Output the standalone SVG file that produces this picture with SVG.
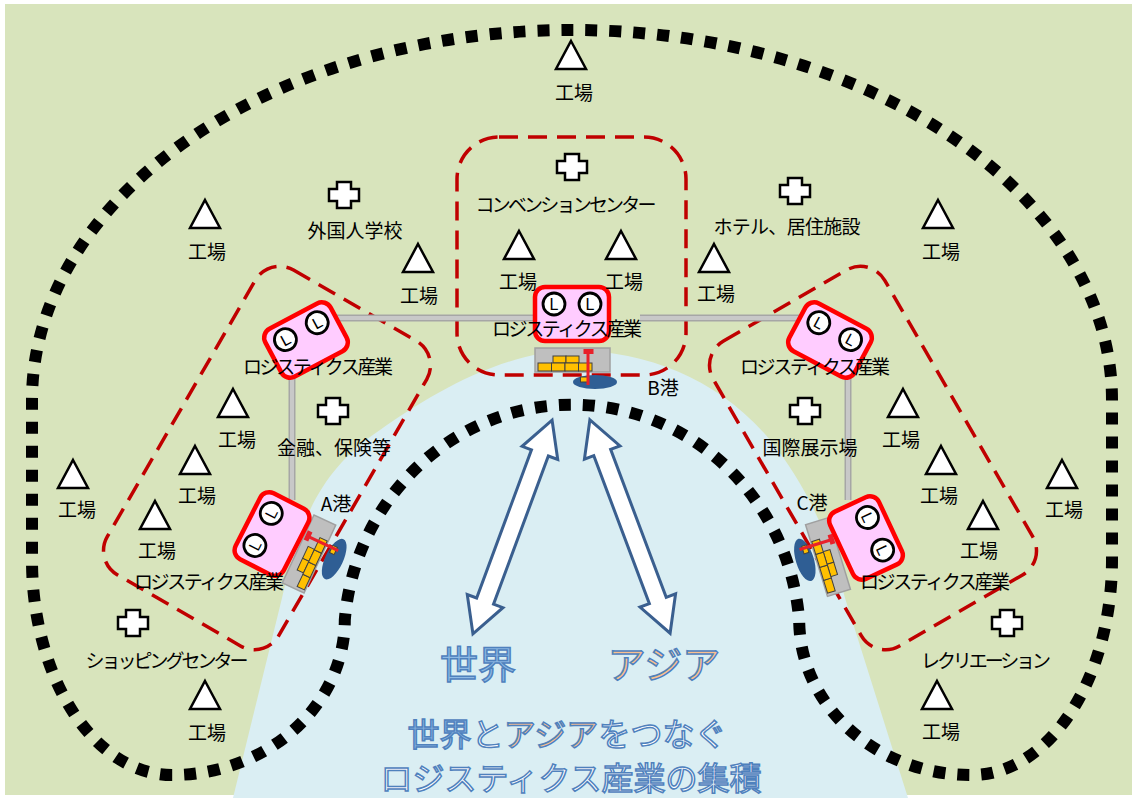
<svg xmlns="http://www.w3.org/2000/svg" width="1132" height="798" viewBox="0 0 1132 798">
  <defs>
    <style>
      .lbl{font-family:"Noto Sans CJK JP","Noto Sans",sans-serif;font-size:19px;fill:#000;text-anchor:middle}
      .tri{fill:#fff;stroke:#000;stroke-width:2.5;stroke-linejoin:miter}
      .plus{fill:#fff;stroke:#000;stroke-width:2.5;stroke-linejoin:miter}
      .zone{fill:none;stroke:#C00000;stroke-width:3.5;stroke-dasharray:19 10}
      .box{fill:#FFCCFF;stroke:#FF0000;stroke-width:4.5}
      .lc{fill:#fff;stroke:#000;stroke-width:2.8}
      .lt{font-family:"Liberation Sans",sans-serif;font-size:16px;text-anchor:middle;fill:#000}
      .link{fill:none;stroke:#A6A6A6;stroke-width:7}
      .link-in{fill:none;stroke:#C8C8C8;stroke-width:4}
      .cont{fill:#FFC000;stroke:#404040;stroke-width:1}
      .ship{fill:#2F5E94}
      .quay{fill:#BFBFBF;stroke:#A0A0A0;stroke-width:1.5}
      .crane{stroke:#E8202A;stroke-width:3}
      .arrow{fill:#fff;stroke:#3A5F8F;stroke-width:3;stroke-linejoin:miter}
      .big{font-family:"Noto Sans CJK JP","Noto Sans",sans-serif;stroke:#4F81BD;stroke-width:1.5;text-anchor:middle}
    </style>
    <polygon id="tri" class="tri" points="0,-14 15,14 -15,14"/>
    <path id="plus" class="plus" d="M-7,-13 H7 V-6 H15 V6 H7 V13 H-7 V6 H-15 V-6 H-7 Z"/>
    <!-- logistics facility box with two "L" badges -->
    <g id="lbox">
      <rect class="box" x="-37" y="-27" width="74" height="54" rx="10"/>
      <circle class="lc" cx="-18" cy="-10" r="11"/>
      <circle class="lc" cx="18" cy="-10" r="11"/>
      <text class="lt" x="-18" y="-4.3">L</text>
      <text class="lt" x="18" y="-4.3">L</text>
    </g>
    <!-- quay with containers, origin at quay centre -->
    <g id="quay">
      <rect class="quay" x="-37.5" y="-12" width="75" height="24"/>
      <rect class="cont" x="-19.5" y="-4" width="13" height="7"/>
      <rect class="cont" x="-6.5" y="-4" width="13" height="7"/>
      <rect class="cont" x="-34.5" y="3" width="13.5" height="8"/>
      <rect class="cont" x="-21" y="3" width="13.5" height="8"/>
      <rect class="cont" x="-7.5" y="3" width="13.5" height="8"/>
      <rect class="cont" x="6" y="3" width="13.5" height="8"/>
    </g>
    <g id="crane">
      <line class="crane" x1="15.5" y1="-9" x2="15.5" y2="25"/>
      <rect x="11" y="-11" width="10" height="5" fill="#E8202A"/>
    </g>
  </defs>

  <!-- land -->
  <rect x="5" y="4" width="1127" height="791" fill="#D8E4BC"/>
  <!-- sea -->
  <path d="M233,798 L282,598 C300,520 320,470 380,430 C430,395 500,352 575,350 C650,352 720,380 770,440 C810,490 830,540 845,598 L908,798 Z" fill="#DAEEF3"/>

  <!-- outer cluster boundary (block arc) -->
  <path d="M172,775 A140,215 0 0 1 32,560 L32,400 A540,370 0 0 1 572,30 A540,370 0 0 1 1112,400 L1112,560 A140,215 0 0 1 972,775 A172,155 0 0 1 799.2,620 A228,235 0 0 0 344.8,620 A172.8,155 0 0 1 172,775 Z" fill="none" stroke="#000" stroke-width="12" stroke-dasharray="12 12"/>

  <!-- industry zones -->
  <g id="zones">
    <rect class="zone" x="457" y="137" width="229" height="238" rx="42"/>
    <rect class="zone" x="-99" y="-176" width="198" height="352" rx="28" transform="translate(267,458) rotate(30)"/>
    <rect class="zone" x="-99" y="-176" width="198" height="352" rx="28" transform="translate(873,458) rotate(-30)"/>
  </g>

  <!-- connectors between logistics bases -->
  <g id="connectors">
    <path class="link" d="M330,318 H545 M640,318 H810 M292,360 V500 M848,360 V500"/>
    <path class="link-in" d="M330,318 H545 M640,318 H810 M292,360 V500 M848,360 V500"/>
  </g>

  <!-- ports -->
  <g id="port-b" transform="translate(572.5,360)">
    <ellipse class="ship" cx="22.5" cy="22" rx="22" ry="7"/>
    <use href="#quay"/>
    <rect class="cont" x="8" y="17" width="8" height="5"/>
    <use href="#crane"/>
  </g>
  <g id="port-a" transform="translate(309,554) rotate(-65)">
    <ellipse class="ship" cx="6" cy="25" rx="22" ry="9"/>
    <use href="#quay"/>
    <rect class="cont" x="10" y="18" width="8" height="5"/>
    <use href="#crane"/>
  </g>
  <g id="port-c" transform="translate(828,557) scale(-1,1) rotate(-73)">
    <ellipse class="ship" cx="4" cy="23" rx="22" ry="9"/>
    <use href="#quay"/>
    <rect class="cont" x="10" y="17" width="8" height="5"/>
    <use href="#crane"/>
  </g>

  <!-- logistics bases -->
  <g id="lb-center"><use href="#lbox" transform="translate(572,314)"/></g>
  <g id="lb-upper-left"><use href="#lbox" transform="translate(306,340) rotate(-28)"/></g>
  <g id="lb-upper-right"><use href="#lbox" transform="translate(830,340) rotate(28)"/></g>
  <g id="lb-port-a"><use href="#lbox" transform="translate(272,534) rotate(-63)"/></g>
  <g id="lb-port-c"><use href="#lbox" transform="translate(866,538) rotate(65)"/></g>

  <!-- trade arrows -->
  <g id="arrows">
    <polygon class="arrow" points="-114,0 -79,-19 -79,-9 79,-9 79,-19 114,0 79,19 79,9 -79,9 -79,19" transform="translate(512.5,527) rotate(110.3)"/>
    <polygon class="arrow" points="-114,0 -79,-19 -79,-9 79,-9 79,-19 114,0 79,19 79,9 -79,9 -79,19" transform="translate(630,526.5) rotate(69.4)"/>
  </g>

  <!-- factories -->
  <g id="factories">
    <use href="#tri" x="571" y="55"/>
    <use href="#tri" x="205" y="214"/>
    <use href="#tri" x="418" y="258"/>
    <use href="#tri" x="519" y="245"/>
    <use href="#tri" x="621" y="245"/>
    <use href="#tri" x="714" y="258"/>
    <use href="#tri" x="938" y="214"/>
    <use href="#tri" x="233" y="403"/>
    <use href="#tri" x="195" y="460"/>
    <use href="#tri" x="73" y="474"/>
    <use href="#tri" x="155" y="515"/>
    <use href="#tri" x="205" y="695"/>
    <use href="#tri" x="903" y="403"/>
    <use href="#tri" x="941" y="460"/>
    <use href="#tri" x="1062" y="474"/>
    <use href="#tri" x="983" y="515"/>
    <use href="#tri" x="937" y="695"/>
  </g>

  <!-- urban facilities -->
  <g id="facilities">
    <use href="#plus" x="344" y="195"/>
    <use href="#plus" x="572" y="167"/>
    <use href="#plus" x="795" y="191"/>
    <use href="#plus" x="333" y="411"/>
    <use href="#plus" x="805" y="411"/>
    <use href="#plus" x="133" y="623"/>
    <use href="#plus" x="1007" y="623"/>
  </g>

  <!-- labels -->
  <g id="labels">
    <text class="lbl" x="574" y="100">工場</text>
    <text class="lbl" x="207" y="259">工場</text>
    <text class="lbl" x="419" y="303">工場</text>
    <text class="lbl" x="518" y="289">工場</text>
    <text class="lbl" x="624" y="289">工場</text>
    <text class="lbl" x="716" y="301">工場</text>
    <text class="lbl" x="941" y="259">工場</text>
    <text class="lbl" x="237" y="447">工場</text>
    <text class="lbl" x="197" y="503">工場</text>
    <text class="lbl" x="77" y="517">工場</text>
    <text class="lbl" x="157" y="558">工場</text>
    <text class="lbl" x="207" y="740">工場</text>
    <text class="lbl" x="901" y="447">工場</text>
    <text class="lbl" x="939" y="503">工場</text>
    <text class="lbl" x="1064" y="517">工場</text>
    <text class="lbl" x="979" y="558">工場</text>
    <text class="lbl" x="941" y="739">工場</text>

    <text class="lbl" x="355" y="238">外国人学校</text>
    <text class="lbl" x="566" y="212" textLength="181" lengthAdjust="spacing">コンベンションセンター</text>
    <text class="lbl" x="787" y="234" textLength="147" lengthAdjust="spacing">ホテル、居住施設</text>
    <text class="lbl" x="334" y="455">金融、保険等</text>
    <text class="lbl" x="810" y="455">国際展示場</text>
    <text class="lbl" x="167" y="668" textLength="163" lengthAdjust="spacing">ショッピングセンター</text>
    <text class="lbl" x="986" y="668" textLength="130" lengthAdjust="spacing">レクリエーション</text>

    <text class="lbl" x="567" y="336" textLength="150" lengthAdjust="spacing">ロジスティクス産業</text>
    <text class="lbl" x="318" y="374" textLength="150" lengthAdjust="spacing">ロジスティクス産業</text>
    <text class="lbl" x="815" y="374" textLength="150" lengthAdjust="spacing">ロジスティクス産業</text>
    <text class="lbl" x="209" y="589" textLength="150" lengthAdjust="spacing">ロジスティクス産業</text>
    <text class="lbl" x="935" y="589" textLength="150" lengthAdjust="spacing">ロジスティクス産業</text>

    <text class="lbl" x="336" y="511">A港</text>
    <text class="lbl" x="663" y="395">B港</text>
    <text class="lbl" x="812" y="510">C港</text>
  </g>

  <!-- headline texts -->
  <g id="headline">
    <text class="big" x="478" y="678" font-size="38" fill="#8DB9E4">世界</text>
    <text class="big" x="664" y="678" font-size="38" fill="#FAC090">アジア</text>
    <text class="big" x="567" y="746" font-size="32"><tspan fill="#8DB9E4">世界</tspan><tspan fill="#fff">と</tspan><tspan fill="#FAC090">アジア</tspan><tspan fill="#fff">をつなぐ</tspan></text>
    <text class="big" x="571" y="790" font-size="32" fill="#fff">ロジスティクス産業の集積</text>
  </g>
</svg>
